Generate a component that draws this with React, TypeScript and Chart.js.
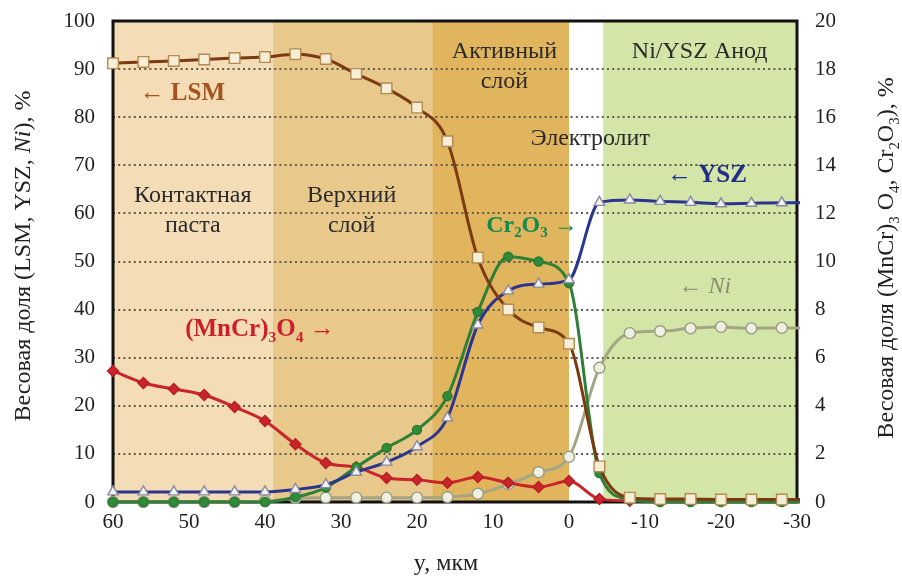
import React, { useEffect, useRef } from "react";
import { Chart, registerables } from "chart.js";

Chart.register(...registerables);

// Depth through the cell, µm (cathode side positive, anode side negative)
const depthUm = [60, 56, 52, 48, 44, 40, 36, 32, 28, 24, 20, 16, 12, 8, 4, 0, -4, -8, -12, -16, -20, -24, -28, -32];

// Weight fractions, % — left axis
const lsmWt = [91.2, 91.5, 91.7, 92.0, 92.3, 92.5, 93.1, 92.1, 89.0, 86.0, 82.0, 75.0, 50.8, 40.0, 36.3, 32.9, 7.4, 0.9, 0.6, 0.6, 0.5, 0.5, 0.5, 0.5];
const yszWt = [2.1, 2.1, 2.1, 2.1, 2.1, 2.1, 2.6, 3.6, 6.2, 8.3, 11.5, 17.5, 36.8, 43.9, 45.3, 46.2, 62.3, 62.8, 62.5, 62.3, 62.0, 62.1, 62.2, 62.2];
const niWt = [0, 0, 0, 0, 0, 0.2, 0.8, 0.9, 0.9, 0.9, 0.9, 1.0, 1.7, 3.7, 6.2, 9.4, 27.9, 35.1, 35.5, 36.1, 36.4, 36.1, 36.2, 36.2];

// Weight fractions, % — right axis
const mncrWt = [5.45, 4.95, 4.7, 4.45, 3.95, 3.37, 2.4, 1.62, 1.45, 1.0, 0.92, 0.8, 1.04, 0.8, 0.62, 0.87, 0.12, 0.05, 0.05, 0.05, 0.05, 0.05, 0.05, 0.05];
const cr2o3Wt = [0, 0, 0, 0, 0, 0, 0.2, 0.6, 1.45, 2.25, 3.0, 4.4, 7.9, 10.2, 10.0, 9.1, 1.2, 0.1, 0, 0, 0, 0, 0, 0];

// Layer boundaries along the depth axis, µm
const layerEdges = [60, 39, 18, 0, -4.5, -30];

const SERIF = '"Liberation Serif", "Times New Roman", serif';

type Run = { text: string; sub?: boolean; italic?: boolean };

function fontOf(size: number, bold: boolean, italic?: boolean) {
  return `${italic ? "italic " : ""}${bold ? "bold " : ""}${size}px ${SERIF}`;
}

function drawRuns(
  ctx: CanvasRenderingContext2D,
  runs: Run[],
  x: number,
  y: number,
  size: number,
  bold: boolean,
  color: string,
  align: "left" | "center"
) {
  ctx.save();
  ctx.fillStyle = color;
  ctx.textBaseline = "middle";
  ctx.textAlign = "left";
  const widths = runs.map((r) => {
    ctx.font = fontOf(r.sub ? size * 0.62 : size, bold, r.italic);
    return ctx.measureText(r.text).width;
  });
  const total = widths.reduce((a, b) => a + b, 0);
  let cx = align === "center" ? x - total / 2 : x;
  runs.forEach((r, i) => {
    ctx.font = fontOf(r.sub ? size * 0.62 : size, bold, r.italic);
    ctx.fillText(r.text, cx, r.sub ? y + size * 0.32 : y);
    cx += widths[i];
  });
  ctx.restore();
}

const decorPlugin = {
  id: "decor",
  beforeDraw(chart: any) {
    const { ctx, chartArea: a, scales } = chart;
    const xs = scales.x;
    const ys = scales.y;
    const fills = ["#f3dcb6", "#e9c88c", "#e1b55e", "#ffffff", "#d3e5a7"];
    ctx.save();
    for (let i = 0; i < fills.length; i++) {
      const x0 = xs.getPixelForValue(layerEdges[i]);
      const x1 = xs.getPixelForValue(layerEdges[i + 1]);
      ctx.fillStyle = fills[i];
      ctx.fillRect(Math.min(x0, x1), a.top, Math.abs(x1 - x0), a.bottom - a.top);
    }
    // dotted horizontal grid
    ctx.strokeStyle = "#5f5c4c";
    ctx.lineWidth = 2;
    ctx.setLineDash([2, 3.2]);
    ys.ticks.forEach((t: any) => {
      if (t.value <= 0 || t.value >= 100) return;
      const py = Math.round(ys.getPixelForValue(t.value));
      ctx.beginPath();
      ctx.moveTo(a.left, py);
      ctx.lineTo(a.right, py);
      ctx.stroke();
    });
    ctx.restore();
  },
  beforeDatasetsDraw(chart: any) {
    const { ctx, chartArea: a } = chart;
    ctx.save();
    ctx.strokeStyle = "#111";
    ctx.lineWidth = 3;
    ctx.strokeRect(a.left, a.top, a.right - a.left, a.bottom - a.top);
    ctx.restore();
  },
  afterDatasetsDraw(chart: any) {
    const { ctx, scales } = chart;
    const px = (v: number) => scales.x.getPixelForValue(v);
    const py = (v: number) => scales.y.getPixelForValue(v);
    const dark = "#2a2a2a";
    const rs = 24;

    // layer names
    drawRuns(ctx, [{ text: "Контактная" }], px(49.5), py(63.6), rs, false, dark, "center");
    drawRuns(ctx, [{ text: "паста" }], px(49.5), py(57.4), rs, false, dark, "center");
    drawRuns(ctx, [{ text: "Верхний" }], px(28.6), py(63.6), rs, false, dark, "center");
    drawRuns(ctx, [{ text: "слой" }], px(28.6), py(57.4), rs, false, dark, "center");
    drawRuns(ctx, [{ text: "Активный" }], px(8.5), py(93.6), rs, false, dark, "center");
    drawRuns(ctx, [{ text: "слой" }], px(8.5), py(87.3), rs, false, dark, "center");
    drawRuns(ctx, [{ text: "Электролит" }], px(-2.8), py(75.5), rs, false, dark, "center");
    drawRuns(ctx, [{ text: "Ni/YSZ Анод" }], px(-17.2), py(93.6), rs, false, dark, "center");

    // series tags
    drawRuns(ctx, [{ text: "← LSM" }], px(56.5), py(85), 25, true, "#a4531f", "left");
    drawRuns(ctx, [{ text: "← YSZ" }], px(-12.9), py(67.8), 25, true, "#1f2f86", "left");
    drawRuns(
      ctx,
      [{ text: "Cr" }, { text: "2", sub: true }, { text: "O" }, { text: "3", sub: true }, { text: " →" }],
      px(10.9),
      py(57.4),
      24,
      true,
      "#138a4c",
      "left"
    );
    drawRuns(ctx, [{ text: "← " }, { text: "Ni", italic: true }], px(-14.4), py(44.7), 24, false, "#8c8c72", "left");
    drawRuns(
      ctx,
      [{ text: "(MnCr)" }, { text: "3", sub: true }, { text: "O" }, { text: "4", sub: true }, { text: " →" }],
      px(50.5),
      py(35.8),
      25,
      true,
      "#cc1f2b",
      "left"
    );
  },
  afterDraw(chart: any) {
    const { ctx } = chart;
    const ts = 24;
    const col = "#222";

    ctx.save();
    ctx.translate(24, 256);
    ctx.rotate(-Math.PI / 2);
    drawRuns(ctx, [{ text: "Весовая доля (LSM, YSZ, " }, { text: "Ni", italic: true }, { text: "), %" }], 0, 0, ts, false, col, "center");
    ctx.restore();

    ctx.save();
    ctx.translate(887, 258);
    ctx.rotate(-Math.PI / 2);
    drawRuns(
      ctx,
      [
        { text: "Весовая доля (MnCr)" },
        { text: "3", sub: true },
        { text: " O" },
        { text: "4", sub: true },
        { text: ", Cr" },
        { text: "2", sub: true },
        { text: "O" },
        { text: "3", sub: true },
        { text: "), %" },
      ],
      0,
      0,
      ts,
      false,
      col,
      "center"
    );
    ctx.restore();

    drawRuns(ctx, [{ text: "y, мкм" }], 446, 564, ts, false, col, "center");
  },
};

const pts = (vals: number[]) => depthUm.map((d, i) => ({ x: d, y: vals[i] }));

const noPad = (s: any) => {
  s.paddingTop = 0;
  s.paddingBottom = 0;
  s.paddingLeft = 0;
  s.paddingRight = 0;
};

export default function App() {
  const ref = useRef<HTMLCanvasElement | null>(null);

  useEffect(() => {
    document.body.style.margin = "0";
    if (!ref.current) return;
    const clip = { left: 14, top: 14, right: 3, bottom: 14 };
    const common = { borderWidth: 3, cubicInterpolationMode: "monotone" as const, clip, pointBorderWidth: 1.4 };
    const tickFont = { family: SERIF, size: 21 };

    const chart = new Chart(ref.current, {
      type: "line",
      data: {
        datasets: [
          {
            ...common,
            label: "LSM",
            data: pts(lsmWt),
            yAxisID: "y",
            borderColor: "#7b3a12",
            pointStyle: "rect",
            pointRadius: 7.5,
            pointBackgroundColor: "#f7eed8",
            pointBorderColor: "#b48a52",
            order: 1,
          },
          {
            ...common,
            label: "YSZ",
            data: pts(yszWt),
            yAxisID: "y",
            borderColor: "#2b3590",
            pointStyle: "triangle",
            pointRadius: 6,
            pointBackgroundColor: "#f2f2f2",
            pointBorderColor: "#8a8aa0",
            order: 2,
          },
          {
            ...common,
            label: "Cr2O3",
            data: pts(cr2o3Wt),
            yAxisID: "y2",
            borderColor: "#2f7f36",
            pointStyle: "circle",
            pointRadius: 4.5,
            pointBackgroundColor: "#2f8a3a",
            pointBorderColor: "#2a7a30",
            order: 3,
          },
          {
            ...common,
            label: "(MnCr)3O4",
            data: pts(mncrWt),
            yAxisID: "y2",
            borderColor: "#c9252b",
            pointStyle: "rectRot",
            pointRadius: 5.5,
            pointBackgroundColor: "#c9252b",
            pointBorderColor: "#b81e24",
            order: 4,
          },
          {
            ...common,
            label: "Ni",
            data: pts(niWt),
            yAxisID: "y",
            borderColor: "#a3a585",
            pointStyle: "circle",
            pointRadius: 5.5,
            pointBackgroundColor: "#eef0e2",
            pointBorderColor: "#9a9c80",
            order: 5,
          },
        ],
      },
      options: {
        responsive: false,
        animation: false,
        events: [],
        layout: { padding: { top: 21, left: 0, right: 0, bottom: 0 } },
        plugins: { legend: { display: false }, tooltip: { enabled: false } },
        scales: {
          x: {
            type: "linear",
            reverse: true,
            min: -30,
            max: 60,
            ticks: { stepSize: 10, font: tickFont, color: "#222", padding: 8, maxRotation: 0, autoSkip: false },
            grid: { display: false, drawTicks: false },
            border: { display: false },
            afterFit: (s: any) => {
              s.height = 74;
              noPad(s);
            },
          },
          y: {
            position: "left",
            min: 0,
            max: 100,
            ticks: { stepSize: 10, font: tickFont, color: "#222", padding: 18 },
            grid: { display: false, drawTicks: false },
            border: { display: false },
            afterFit: (s: any) => {
              s.width = 113;
              noPad(s);
            },
          },
          y2: {
            position: "right",
            min: 0,
            max: 20,
            ticks: { stepSize: 2, font: tickFont, color: "#222", padding: 18 },
            grid: { display: false, drawTicks: false },
            border: { display: false },
            afterFit: (s: any) => {
              s.width = 105;
              noPad(s);
            },
          },
        },
      },
      plugins: [decorPlugin],
    });
    return () => chart.destroy();
  }, []);

  return (
    <div style={{ position: "absolute", left: 0, top: 0, width: 902, height: 576 }}>
      <canvas ref={ref} width={902} height={576} style={{ display: "block" }} />
    </div>
  );
}
